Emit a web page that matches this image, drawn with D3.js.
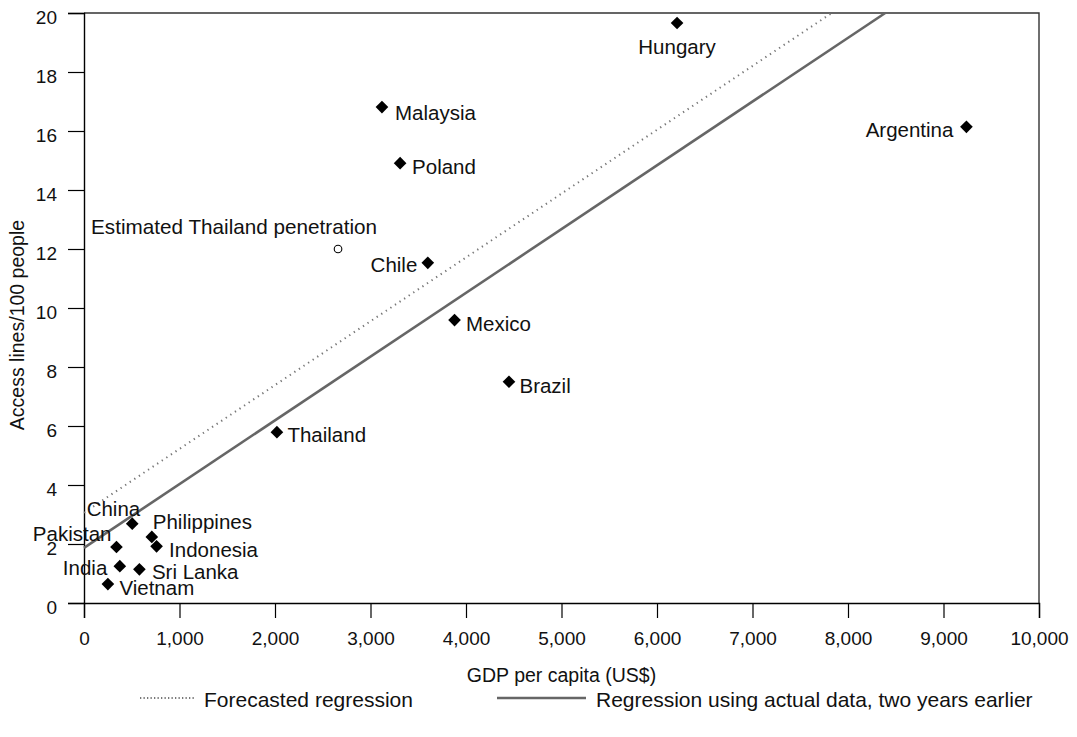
<!DOCTYPE html>
<html>
<head>
<meta charset="utf-8">
<script src="https://cdn.jsdelivr.net/npm/d3@7"></script>
<style>
  html, body { margin: 0; padding: 0; background: #fff; }
  svg { display: block; font-family: "Liberation Sans", Arial, Helvetica, sans-serif; }
</style>
</head>
<body>
<svg id="chart" width="1077" height="737"></svg>
<script>
// Country observations: GDP per capita (US$) vs access lines per 100 people
const countries = ["Hungary", "Argentina", "Malaysia", "Poland", "Chile", "Mexico", "Brazil", "Thailand",
                   "China", "Pakistan", "Philippines", "Indonesia", "India", "Sri Lanka", "Vietnam"];
const gdpPerCapita = [6210, 9240, 3120, 3310, 3600, 3880, 4450, 2020,
                      505, 340, 710, 760, 375, 580, 250];
const accessLines = [19.66, 16.14, 16.81, 14.91, 11.53, 9.59, 7.50, 5.79,
                     2.69, 1.90, 2.24, 1.92, 1.25, 1.14, 0.64];

// Estimated point
const estimateLabel = "Estimated Thailand penetration";
const estimateGdp = 2660;
const estimateLines = 12.0;

// Regression lines, as [gdp, lines] end points
const forecastLine = [[0, 3.06], [7830, 20]];
const actualLine = [[0, 1.87], [8390, 20]];

// Axis ticks
const xTicks = [0, 1000, 2000, 3000, 4000, 5000, 6000, 7000, 8000, 9000, 10000];
const yTicks = [0, 2, 4, 6, 8, 10, 12, 14, 16, 18, 20];

const legendLabels = ["Forecasted regression", "Regression using actual data, two years earlier"];
const xTitle = "GDP per capita (US$)";
const yTitle = "Access lines/100 people";

// Label placement for each country: anchor and offset from the marker
const labelPlace = {
  "Hungary":     { a: "middle", dx: 0,     dy: 31 },
  "Argentina":   { a: "end",    dx: -13,   dy: 10.5 },
  "Malaysia":    { a: "start",  dx: 13,    dy: 13 },
  "Poland":      { a: "start",  dx: 12,    dy: 11 },
  "Chile":       { a: "end",    dx: -10.5, dy: 9 },
  "Mexico":      { a: "start",  dx: 11.5,  dy: 11 },
  "Brazil":      { a: "start",  dx: 10.5,  dy: 11.5 },
  "Thailand":    { a: "start",  dx: 10.5,  dy: 9.5 },
  "China":       { a: "end",    dx: 8,     dy: -8 },
  "Pakistan":    { a: "end",    dx: -5,    dy: -5.5 },
  "Philippines": { a: "start",  dx: 1,     dy: -8 },
  "Indonesia":   { a: "start",  dx: 12.5,  dy: 10.5 },
  "India":       { a: "end",    dx: -12.5, dy: 8.5 },
  "Sri Lanka":   { a: "start",  dx: 12.5,  dy: 10 },
  "Vietnam":     { a: "start",  dx: 11.5,  dy: 11 }
};

const svg = d3.select("#chart");
const margin = { left: 84, right: 38, top: 13, bottom: 134 };
const W = 1077, H = 737;

const x = d3.scaleLinear().domain([0, 10000]).range([margin.left, W - margin.right]);
const y = d3.scaleLinear().domain([0, 20]).range([H - margin.bottom, margin.top]);

// Frame on the top and right sides
svg.append("path")
  .attr("d", `M${x(0)},${y(20)}H${x(10000)}V${y(0)}`)
  .attr("fill", "none").attr("stroke", "#333").attr("stroke-width", 1.4);

// X axis
const xAxis = svg.append("g")
  .attr("transform", `translate(0,${y(0)})`)
  .call(d3.axisBottom(x).tickValues(xTicks).tickSize(15).tickPadding(14)
        .tickFormat(d3.format(",")));
xAxis.select(".domain").attr("stroke", "#000").attr("stroke-width", 1.4);
xAxis.selectAll(".tick line").attr("stroke", "#000").attr("stroke-width", 1.2);
xAxis.selectAll(".tick text").attr("font-size", 19).attr("fill", "#111")
  .attr("font-family", "Liberation Sans, Arial, sans-serif");

// Y axis
const yAxis = svg.append("g")
  .attr("transform", `translate(${x(0)},0)`)
  .call(d3.axisLeft(y).tickValues(yTicks).tickSize(16).tickPadding(11));
yAxis.select(".domain").attr("stroke", "#000").attr("stroke-width", 1.4);
yAxis.selectAll(".tick line").attr("stroke", "#000").attr("stroke-width", 1.2);
yAxis.selectAll(".tick text").attr("font-size", 19).attr("fill", "#111")
  .attr("dy", "0.55em")
  .attr("font-family", "Liberation Sans, Arial, sans-serif");

// Axis titles
svg.append("text")
  .attr("x", (x(0) + x(10000)) / 2).attr("y", 682)
  .attr("text-anchor", "middle").attr("font-size", 19.5).attr("fill", "#111")
  .text(xTitle);
svg.append("text")
  .attr("transform", `translate(24,${(y(0) + y(20)) / 2 + 17}) rotate(-90)`)
  .attr("text-anchor", "middle").attr("font-size", 19.5).attr("fill", "#111")
  .text(yTitle);

// Regression lines
const line = d3.line().x(d => x(d[0])).y(d => y(d[1]));
svg.append("path").datum(forecastLine).attr("d", line)
  .attr("fill", "none").attr("stroke", "#777").attr("stroke-width", 2)
  .attr("stroke-dasharray", "1.3,4.2");
svg.append("path").datum(actualLine).attr("d", line)
  .attr("fill", "none").attr("stroke", "#666").attr("stroke-width", 2.6);

// Country markers (diamonds)
const pts = countries.map((c, i) => ({ name: c, gx: gdpPerCapita[i], ly: accessLines[i] }));
svg.append("g").selectAll("path").data(pts).join("path")
  .attr("transform", d => `translate(${x(d.gx)},${y(d.ly)}) rotate(45)`)
  .attr("d", d3.symbol().type(d3.symbolSquare).size(80))
  .attr("fill", "#000");

// Country labels
svg.append("g").selectAll("text").data(pts).join("text")
  .attr("x", d => x(d.gx) + labelPlace[d.name].dx)
  .attr("y", d => y(d.ly) + labelPlace[d.name].dy)
  .attr("text-anchor", d => labelPlace[d.name].a)
  .attr("font-size", 20.5).attr("fill", "#111")
  .text(d => d.name);

// Estimated point: open circle with its label
svg.append("circle")
  .attr("cx", x(estimateGdp)).attr("cy", y(estimateLines)).attr("r", 3.8)
  .attr("fill", "#fff").attr("stroke", "#000").attr("stroke-width", 1.1);
svg.append("text")
  .attr("x", x(estimateGdp) + 39).attr("y", y(estimateLines) - 15)
  .attr("text-anchor", "end").attr("font-size", 20.7).attr("fill", "#111")
  .text(estimateLabel);

// Legend
const legend = svg.append("g");
legend.append("line").attr("x1", 140).attr("x2", 196).attr("y1", 698).attr("y2", 698)
  .attr("stroke", "#777").attr("stroke-width", 2).attr("stroke-dasharray", "1.3,2.2");
legend.append("text").attr("x", 204).attr("y", 707).attr("font-size", 21).attr("fill", "#111")
  .text(legendLabels[0]);
legend.append("line").attr("x1", 497).attr("x2", 586).attr("y1", 698).attr("y2", 698)
  .attr("stroke", "#666").attr("stroke-width", 2.6);
legend.append("text").attr("x", 596).attr("y", 707).attr("font-size", 21).attr("fill", "#111")
  .text(legendLabels[1]);
</script>
</body>
</html>
